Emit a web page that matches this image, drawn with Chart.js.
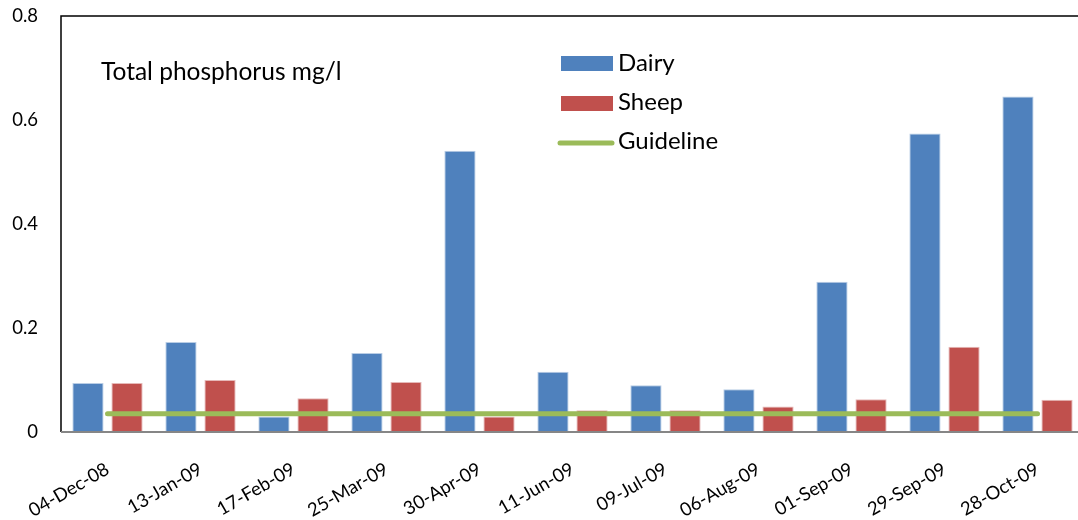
<!DOCTYPE html>
<html>
<head>
<meta charset="utf-8">
<script src="https://cdn.jsdelivr.net/npm/chart.js@4.4.0/dist/chart.umd.min.js"></script>
<style>
  html, body { margin: 0; padding: 0; background: #fff; overflow: hidden; }
  #wrap { width: 1090px; height: 520px; }
</style>
</head>
<body>
<div id="wrap"><canvas id="chart" width="1090" height="520"></canvas></div>
<script>
const dates = ['04-Dec-08', '13-Jan-09', '17-Feb-09', '25-Mar-09', '30-Apr-09', '11-Jun-09',
               '09-Jul-09', '06-Aug-09', '01-Sep-09', '29-Sep-09', '28-Oct-09'];
const dairy = [0.094, 0.173, 0.030, 0.152, 0.541, 0.116, 0.090, 0.082, 0.289, 0.574, 0.645];
const sheep = [0.094, 0.100, 0.065, 0.096, 0.030, 0.042, 0.042, 0.049, 0.063, 0.164, 0.062];
const guideline = [0.035, 0.035, 0.035, 0.035, 0.035, 0.035, 0.035, 0.035, 0.035, 0.035, 0.035];
const yTicks = [0, 0.2, 0.4, 0.6, 0.8];

const FONT = 'Lato, "Open Sans", sans-serif';

// plot frame, title and the legend inside the plot area (Excel style)
const overlay = {
    id: 'overlay',
    afterDatasetsDraw(chart) {
        const { ctx, chartArea: a } = chart;
        ctx.save();
        ctx.strokeStyle = '#000';
        ctx.lineWidth = 1.5;
        ctx.beginPath();
        ctx.moveTo(a.left, a.bottom);
        ctx.lineTo(a.left, a.top);
        ctx.lineTo(a.right, a.top);
        ctx.lineTo(a.right, a.bottom);
        ctx.stroke();
        ctx.strokeStyle = '#868686';
        ctx.lineWidth = 2;
        ctx.beginPath();
        ctx.moveTo(a.left, a.bottom);
        ctx.lineTo(a.right, a.bottom);
        ctx.stroke();

        ctx.fillStyle = '#000';
        ctx.textBaseline = 'alphabetic';
        ctx.font = '24.5px ' + FONT;
        ctx.fillText('Total phosphorus mg/l', 101, 80);

        ctx.fillStyle = '#4F81BD';
        ctx.fillRect(561, 56, 52, 15);
        ctx.fillStyle = '#C0504D';
        ctx.fillRect(561, 96, 52, 15);
        ctx.strokeStyle = '#9BBB59';
        ctx.lineWidth = 5;
        ctx.lineCap = 'round';
        ctx.beginPath();
        ctx.moveTo(560, 143);
        ctx.lineTo(612, 143);
        ctx.stroke();
        ctx.fillStyle = '#000';
        ctx.font = '24px ' + FONT;
        ctx.fillText('Dairy', 618, 71);
        ctx.fillText('Sheep', 618, 110);
        ctx.fillText('Guideline', 618, 149);
        ctx.restore();
    }
};

new Chart(document.getElementById('chart'), {
    data: {
        labels: dates,
        datasets: [
            { type: 'line', label: 'Guideline', data: guideline, borderColor: '#9BBB59',
              borderWidth: 5, borderCapStyle: 'round', pointRadius: 0, order: 0 },
            { type: 'bar', label: 'Dairy', data: dairy, backgroundColor: '#4F81BD',
              borderColor: '#B9CDE5', borderWidth: 1, order: 1,
              categoryPercentage: 0.84, barPercentage: 0.8 },
            { type: 'bar', label: 'Sheep', data: sheep, backgroundColor: '#C0504D',
              borderColor: '#E6B9B8', borderWidth: 1, order: 1,
              categoryPercentage: 0.84, barPercentage: 0.8 }
        ]
    },
    options: {
        responsive: false,
        animation: false,
        layout: { padding: { left: 0, top: 16, right: 6, bottom: 0 } },
        plugins: { legend: { display: false }, tooltip: { enabled: false } },
        scales: {
            x: {
                grid: { display: false, drawTicks: false },
                border: { display: false },
                ticks: { color: '#000', font: { family: FONT, size: 18.5 },
                          minRotation: 30, maxRotation: 30, padding: 26 },
                afterFit(scale) { scale.height = 88; }
            },
            y: {
                min: 0, max: 0.8,
                afterBuildTicks(scale) { scale.ticks = yTicks.map(v => ({ value: v })); },
                grid: { display: false, drawTicks: false },
                border: { display: false },
                ticks: { color: '#000', font: { family: FONT, size: 18.5 }, padding: 23 },
                afterFit(scale) { scale.width = 61; scale.paddingTop = 0; scale.paddingBottom = 0; }
            }
        }
    },
    plugins: [overlay]
});
</script>
</body>
</html>
